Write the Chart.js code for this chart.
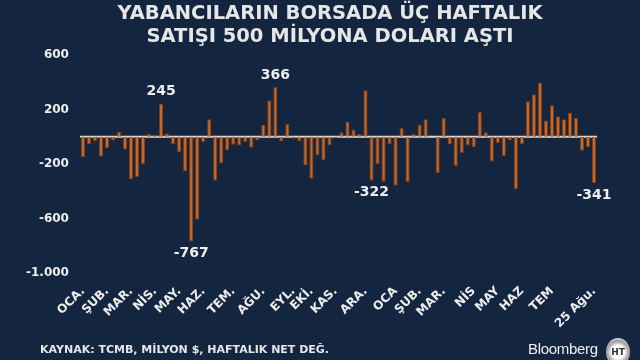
<!DOCTYPE html>
<html>
<head>
<meta charset="utf-8">
<script src="https://cdn.jsdelivr.net/npm/chart.js@4.4.0/dist/chart.umd.min.js"></script>
<style>
  html, body { margin: 0; padding: 0; background: #14263f; }
  #wrap { position: relative; width: 640px; height: 360px; overflow: hidden; background: #14263f; }
  #chart { position: absolute; left: 0; top: 0; }
  .title { position: absolute; left: 20px; width: 620px; top: 1px; text-align: center; color: #e6e6e6;
           font: bold 19.5px "DejaVu Sans", sans-serif; line-height: 23px; }
  .foot { position: absolute; left: 40px; top: 343px; color: #e6e6e6; font: bold 11px "DejaVu Sans", sans-serif; }
  .brand { position: absolute; left: 528px; top: 340px; color: #f0f0f0; font: 15px "Liberation Sans", Arial, sans-serif; letter-spacing: -0.3px; }
  .logo { position: absolute; left: 606px; top: 338px; width: 24px; height: 28px; border-radius: 50%;
          background: radial-gradient(circle, #ffffff 35%, #9a9a9a 60%, #dcdcdc 75%); color: #333;
          font: bold 9px "DejaVu Sans", sans-serif; text-align: center; line-height: 28px; }
</style>
</head>
<body>
<div id="wrap">
  <canvas id="chart" width="640" height="360"></canvas>
  <div class="title">YABANCILARIN BORSADA ÜÇ HAFTALIK<br>SATIŞI 500 MİLYONA DOLARI AŞTI</div>
  <div class="foot">KAYNAK: TCMB, MİLYON $, HAFTALIK NET DEĞ.</div>
  <div class="brand">Bloomberg</div>
  <div class="logo">HT</div>
</div>
<script>
// weekly net flows, million $ (86 weeks)
const weeklyValues = [
  -150, -54, -32, -145, -84, -27, 37, -93, -314, -295,
  -201, 20, 12, 245, 27, -52, -113, -250, -767, -609,
  -39, 128, -322, -196, -101, -59, -64, -39, -81, -27,
  88, 268, 366, -34, 96, -15, -34, -211, -307, -138,
  -174, -64, -10, 34, 113, 54, 22, 341, -322, -199,
  -329, -54, -359, 64, -334, 20, 91, 128, 0, -265,
  138, -56, -214, -118, -64, -76, 182, 34, -182, -47,
  -140, -27, -383, -52, 260, 312, 398, 120, 231, 150,
  128, 179, 138, -103, -76, -341
];

// month labels at the week they start
const monthTicks = [
  [0, 'OCA.'], [4, 'ŞUB.'], [8, 'MAR.'], [12, 'NİS.'], [16, 'MAY.'], [20, 'HAZ.'],
  [25, 'TEM.'], [30, 'AĞU.'], [35, 'EYL.'], [38, 'EKİ.'], [42, 'KAS.'], [47, 'ARA.'],
  [52, 'OCA'], [56, 'ŞUB.'], [60, 'MAR.'], [65, 'NİS'], [69, 'MAY'], [73, 'HAZ'],
  [78, 'TEM'], [85, '25 Ağu.']
];

// bars that get a value written next to them
const labelledWeeks = [13, 18, 32, 48, 85];

const yTicks = { min: -1000, max: 600, step: 400 };

const weekLabels = weeklyValues.map(() => '');
monthTicks.forEach(([i, name]) => { weekLabels[i] = name; });

const zeroLine = {
  id: 'zeroLine',
  beforeDatasetsDraw(chart) {
    const { ctx, chartArea, scales } = chart;
    const y = scales.y.getPixelForValue(0);
    ctx.save();
    ctx.strokeStyle = '#d9d9d9';
    ctx.lineWidth = 2;
    ctx.beginPath();
    ctx.moveTo(chartArea.left, y);
    ctx.lineTo(chartArea.right, y);
    ctx.stroke();
    ctx.restore();
  }
};

const valueLabels = {
  id: 'valueLabels',
  afterDatasetsDraw(chart) {
    const { ctx } = chart;
    const meta = chart.getDatasetMeta(0);
    ctx.save();
    ctx.fillStyle = '#eeeeee';
    ctx.font = 'bold 14px "DejaVu Sans", sans-serif';
    ctx.textAlign = 'center';
    ctx.textBaseline = 'middle';
    labelledWeeks.forEach(i => {
      const bar = meta.data[i];
      const v = weeklyValues[i];
      const y = v >= 0 ? bar.y - 12 : bar.y + 12;
      ctx.fillText(String(v), bar.x, y);
    });
    ctx.restore();
  }
};

new Chart(document.getElementById('chart'), {
  type: 'bar',
  data: {
    labels: weekLabels,
    datasets: [{
      data: weeklyValues,
      backgroundColor: '#c7682b',
      borderColor: '#7f3d16',
      borderWidth: 1,
      barPercentage: 0.7,
      categoryPercentage: 1
    }]
  },
  options: {
    responsive: false,
    animation: false,
    layout: { padding: { left: 23, right: 43, top: 55, bottom: 26 } },
    plugins: {
      legend: { display: false },
      tooltip: { enabled: false },
      title: { display: false }
    },
    scales: {
      x: {
        grid: { display: false },
        border: { display: false },
        ticks: {
          autoSkip: false,
          maxRotation: 45,
          minRotation: 45,
          color: '#eeeeee',
          font: { family: '"DejaVu Sans", sans-serif', size: 12, weight: 'bold' }
        }
      },
      y: {
        min: yTicks.min,
        max: yTicks.max,
        grid: { display: false },
        border: { display: false },
        ticks: {
          stepSize: yTicks.step,
          padding: 3,
          color: '#eeeeee',
          font: { family: '"DejaVu Sans", sans-serif', size: 12, weight: 'bold' },
          callback: v => String(v).replace(/\B(?=(\d{3})+(?!\d))/g, '.')
        }
      }
    }
  },
  plugins: [zeroLine, valueLabels]
});
</script>
</body>
</html>
